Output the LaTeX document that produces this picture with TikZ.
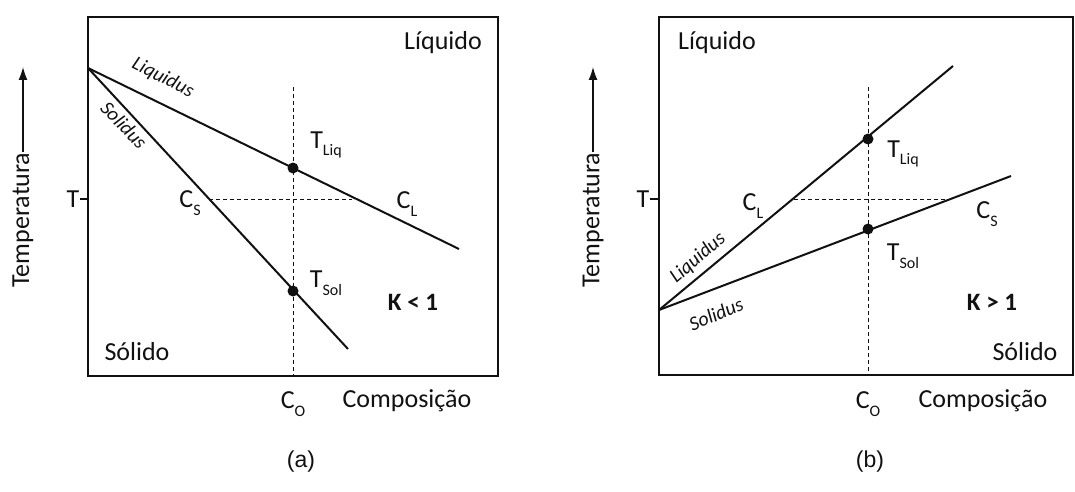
\documentclass[tikz,border=0pt]{standalone}
\usepackage{fontspec}
\setmainfont{Carlito}
\newfontfamily\capfont{Liberation Sans}
\usetikzlibrary{arrows.meta,positioning,calc}
\definecolor{ink}{HTML}{111111}
\newcommand{\tsub}[2]{#1\raisebox{-0.6ex}{\fontsize{16}{16}\selectfont #2}}
\tikzset{
  framebox/.style  ={draw=ink, line width=2.2pt},
  curveline/.style ={draw=ink, line width=2pt},
  guideline/.style ={draw=ink, line width=1pt, dash pattern=on 4pt off 3pt},
  dotmark/.style   ={circle, fill=ink, inner sep=0pt, minimum size=11pt},
  lbl/.style       ={inner sep=0pt, text=ink, font=\fontsize{26}{26}\selectfont},
  curvelbl/.style  ={inner sep=0pt, text=ink, font=\fontsize{20}{20}\selectfont\itshape},
  klbl/.style      ={inner sep=0pt, text=ink, font=\fontsize{25}{25}\selectfont\bfseries},
  panellbl/.style  ={inner sep=0pt, text=ink, font=\fontsize{23}{23}\selectfont\capfont},
  temparr/.style   ={-{Latex[length=13pt,width=9pt]}, line width=1.3pt, draw=ink},
}
\begin{document}
\begin{tikzpicture}[x=1pt,y=1pt]
  \useasboundingbox (0,0) rectangle (1075,-492);

  % ---- panel (a): K < 1
  \draw[framebox] (88,-17) rectangle (498,-376);
  \coordinate (apexA) at (88,-68);
  \coordinate (liqendA) at (459,-249);
  \coordinate (solendA) at (348,-349);
  \draw[curveline] (apexA) -- (liqendA);
  \draw[curveline] (apexA) -- (solendA);
  \coordinate (coTopA) at (293,-87);
  \coordinate (coBotA) at (293,-376);
  \coordinate (csA) at (209,-199);
  \coordinate (clA) at (352,-199);
  \draw[guideline] (coTopA) -- (coBotA);
  \draw[guideline] (csA) -- (clA);
  \node[dotmark] (tliqA) at (293,-168) {};
  \node[dotmark] (tsolA) at (293,-291) {};

  \node[lbl] (liquidoA) at (443,-43) {Líquido};
  \node[lbl] (solidoA) at (137,-352) {Sólido};
  \node[curvelbl,rotate=-27] (liquidusA) at (163,-78) {Liquidus};
  \node[curvelbl,rotate=-46] (solidusA) at (124,-125) {Solidus};
  \node[lbl] (csTxtA) at (190,-203) {\tsub{C}{S}};
  \node[lbl] (clTxtA) at (407,-204) {\tsub{C}{L}};
  \node[lbl] (tliqTxtA) at (326,-145) {\tsub{T}{Liq}};
  \node[lbl] (tsolTxtA) at (326,-283) {\tsub{T}{Sol}};
  \node[klbl] (kA) at (413,-302) {K < 1};
  \node[lbl] (coTxtA) at (293,-404) {\tsub{C}{O}};
  \node[lbl] (compA) at (407,-401) {Composição};
  \node[lbl] (tTxtA) at (73,-199) {T};
  \draw[line width=1.3pt,draw=ink] (tTxtA.east) -- (88,-199);
  \node[lbl,rotate=90] (tempA) at (23,-220) {Temperatura};
  \coordinate (tipA) at (23,-67);
  \draw[temparr] (tempA.east) -- (tipA);
  \node[panellbl] (capA) at (301,-462) {(a)};

  % ---- panel (b): K > 1
  \draw[framebox] (659,-17) rectangle (1073,-375);
  \coordinate (apexB) at (659,-310);
  \coordinate (liqendB) at (953,-66);
  \coordinate (solendB) at (1011,-176);
  \draw[curveline] (apexB) -- (liqendB);
  \draw[curveline] (apexB) -- (solendB);
  \coordinate (coTopB) at (868,-87);
  \coordinate (coBotB) at (868,-375);
  \coordinate (clB) at (794,-199);
  \coordinate (csB) at (948,-199);
  \draw[guideline] (coTopB) -- (coBotB);
  \draw[guideline] (clB) -- (csB);
  \node[dotmark] (tliqB) at (868,-139) {};
  \node[dotmark] (tsolB) at (868,-229) {};

  \node[lbl] (liquidoB) at (717,-43) {Líquido};
  \node[lbl] (solidoB) at (1025,-352) {Sólido};
  \node[curvelbl,rotate=41] (liquidusB) at (698,-258) {Liquidus};
  \node[curvelbl,rotate=23] (solidusB) at (716,-314) {Solidus};
  \node[lbl] (clTxtB) at (753,-206) {\tsub{C}{L}};
  \node[lbl] (csTxtB) at (987,-214) {\tsub{C}{S}};
  \node[lbl] (tliqTxtB) at (903,-154) {\tsub{T}{Liq}};
  \node[lbl] (tsolTxtB) at (903,-256) {\tsub{T}{Sol}};
  \node[klbl] (kB) at (992,-302) {K > 1};
  \node[lbl] (coTxtB) at (868,-404) {\tsub{C}{O}};
  \node[lbl] (compB) at (983,-401) {Composição};
  \node[lbl] (tTxtB) at (643,-199) {T};
  \draw[line width=1.3pt,draw=ink] (tTxtB.east) -- (659,-199);
  \node[lbl,rotate=90] (tempB) at (593,-220) {Temperatura};
  \coordinate (tipB) at (593,-67);
  \draw[temparr] (tempB.east) -- (tipB);
  \node[panellbl] (capB) at (870,-462) {(b)};
\end{tikzpicture}
\end{document}
